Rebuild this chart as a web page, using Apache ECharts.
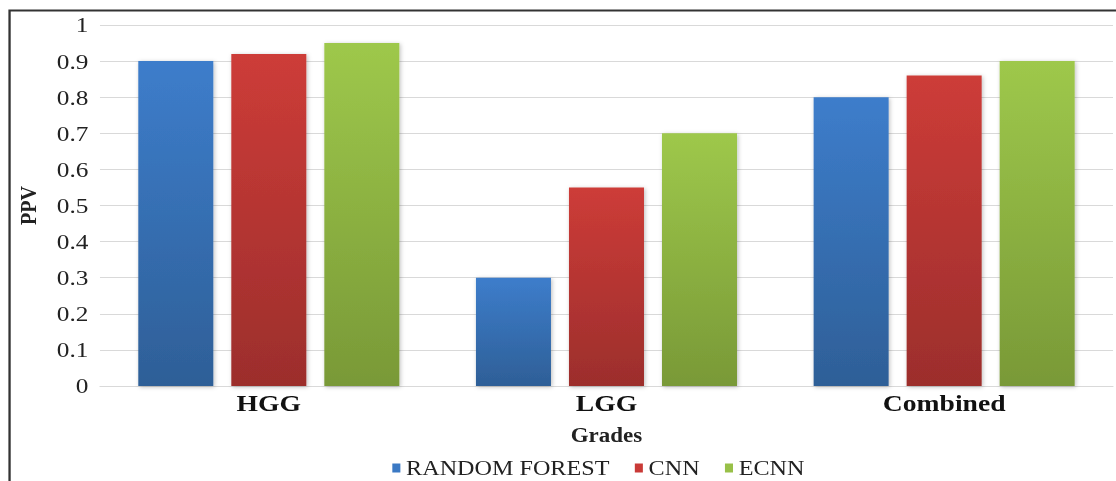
<!DOCTYPE html>
<html>
<head>
<meta charset="utf-8">
<script src="https://cdn.jsdelivr.net/npm/echarts@6/dist/echarts.min.js"></script>
<style>
  html, body { margin: 0; padding: 0; background: #fff; overflow: hidden; }
  /* chart is laid out narrower and widened horizontally, giving the broad lettering */
  #chart { width: 970px; height: 481px; transform: scaleX(1.1505); transform-origin: 0 0; }
</style>
</head>
<body>
<div id="chart"></div>
<script>
// PPV per tumour grade for three classifiers
const grades = ['HGG', 'LGG', 'Combined'];
const randomForest = [0.90, 0.30, 0.80];
const cnn = [0.92, 0.55, 0.86];
const ecnn = [0.95, 0.70, 0.90];
const seriesNames = ['RANDOM FOREST', 'CNN', 'ECNN'];

const serif = '"Liberation Serif", "DejaVu Serif", serif';

function grad(top, bottom) {
  return new echarts.graphic.LinearGradient(0, 0, 0, 1, [
    { offset: 0, color: top },
    { offset: 1, color: bottom }
  ]);
}

const palette = [
  grad('#3d7dcb', '#2e5f97'),
  grad('#cd3c38', '#9c2e2c'),
  grad('#9ec84b', '#799937')
];
const legendColors = ['#3b79c4', '#c93a37', '#98c048'];
const seriesData = [randomForest, cnn, ecnn];

const chart = echarts.init(document.getElementById('chart'), null, { renderer: 'svg' });

chart.setOption({
  animation: false,
  backgroundColor: '#fff',
  graphic: [
    {
      type: 'polyline',
      shape: { points: [[8.3, 481], [8.3, 10.5], [970, 10.5]] },
      style: { stroke: '#333', lineWidth: 2, fill: null },
      z: 0
    }
  ],
  grid: { left: 86.9, right: 2.6, top: 25, bottom: 95 },
  legend: {
    top: 457,
    left: 341,
    padding: 0,
    itemWidth: 7,
    itemHeight: 9,
    itemGap: 22,
    icon: 'rect',
    textStyle: { fontFamily: serif, fontSize: 21, lineHeight: 22, color: '#222' },
    data: seriesNames.map((n, i) => ({ name: n, itemStyle: { color: legendColors[i] } }))
  },
  xAxis: {
    type: 'category',
    data: grades,
    name: 'Grades',
    nameLocation: 'middle',
    nameGap: 40,
    nameTextStyle: { fontFamily: serif, fontSize: 20, fontWeight: 'bold', color: '#222' },
    axisLine: { lineStyle: { color: '#d9d9d9', width: 1 } },
    axisTick: { show: false },
    axisLabel: { fontFamily: serif, fontSize: 24, fontWeight: 'bold', color: '#111', margin: 5 }
  },
  yAxis: {
    type: 'value',
    min: 0,
    max: 1,
    interval: 0.1,
    name: 'PPV',
    nameLocation: 'middle',
    nameGap: 52,
    nameTextStyle: { fontFamily: serif, fontSize: 20, fontWeight: 'bold', color: '#222' },
    axisLine: { show: false },
    axisTick: { show: false },
    splitLine: { lineStyle: { color: '#d9d9d9', width: 1 } },
    axisLabel: {
      fontFamily: serif, fontSize: 22, color: '#222', margin: 10,
      formatter: v => String(Math.round(v * 10) / 10)
    }
  },
  series: seriesNames.map((name, i) => ({
    name,
    type: 'bar',
    data: seriesData[i],
    barWidth: 65.2,
    barGap: '24%',
    itemStyle: {
      color: palette[i],
      shadowColor: 'rgba(0,0,0,0.25)',
      shadowBlur: 4,
      shadowOffsetX: 1,
      shadowOffsetY: 1
    }
  }))
});
</script>
</body>
</html>
